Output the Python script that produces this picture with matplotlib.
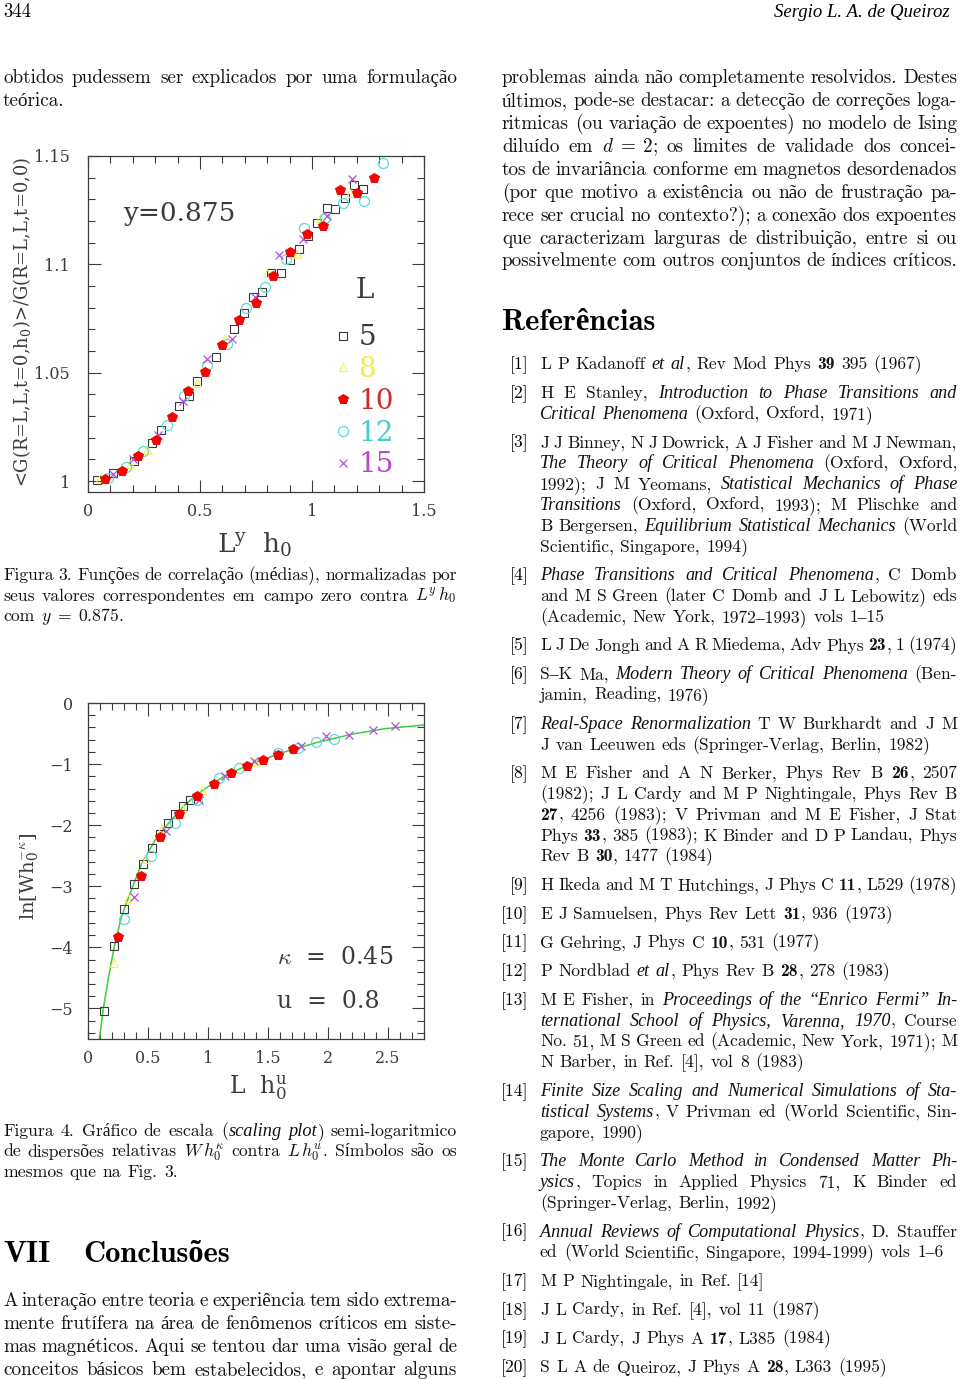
import matplotlib.pyplot as plt
from matplotlib.ticker import MultipleLocator

plt.rcParams['mathtext.fontset'] = 'cm'

W, H = 960, 1379

# ---------------- Figura 3: <G(h0)>/G(0) vs L^y h0 ----------------
f3_x5 = [0.039, 0.113, 0.205, 0.284, 0.324, 0.406, 0.451, 0.488, 0.571, 0.653, 0.696, 0.735,
         0.778, 0.817, 0.862, 0.902, 0.943, 0.984, 1.021, 1.065, 1.104, 1.147, 1.188, 1.229]
f3_y5 = [1.0005, 1.0038, 1.0095, 1.0177, 1.0234, 1.0346, 1.0392, 1.0462, 1.0574, 1.0700, 1.0774, 1.0851,
         1.0874, 1.0958, 1.0962, 1.1020, 1.1069, 1.1131, 1.1192, 1.1258, 1.1254, 1.1305, 1.1366, 1.1346]
f3_x8 = [0.054, 0.187, 0.262, 0.485, 0.612, 0.798, 0.932, 1.036, 1.170]
f3_y8 = [1.0015, 1.0077, 1.0146, 1.0454, 1.0662, 1.0962, 1.1046, 1.1215, 1.1331]
f3_x10 = [0.076, 0.150, 0.225, 0.302, 0.374, 0.448, 0.522, 0.600, 0.676, 0.750, 0.824, 0.902,
          0.976, 1.051, 1.125, 1.199, 1.277]
f3_y10 = [1.0011, 1.0049, 1.0115, 1.0189, 1.0295, 1.0415, 1.0505, 1.0628, 1.0743, 1.0823, 1.0946, 1.1057,
          1.1138, 1.1177, 1.1343, 1.1331, 1.1400]
f3_x12 = [0.091, 0.168, 0.247, 0.354, 0.430, 0.533, 0.619, 0.704, 0.790, 0.884, 0.966, 1.058,
          1.140, 1.232, 1.318]
f3_y12 = [1.0015, 1.0066, 1.0138, 1.0257, 1.0395, 1.0534, 1.0635, 1.0800, 1.0895, 1.1026, 1.1169, 1.1212,
          1.1282, 1.1292, 1.1469]
f3_x15 = [0.113, 0.202, 0.314, 0.423, 0.530, 0.641, 0.746, 0.854, 0.958, 1.068, 1.177]
f3_y15 = [1.0034, 1.0100, 1.0215, 1.0369, 1.0562, 1.0654, 1.0851, 1.1043, 1.1115, 1.1223, 1.1395]
f3_xticks = [0, 0.5, 1, 1.5]
f3_xticklabels = ['0', '0.5', '1', '1.5']
f3_yticks = [1, 1.05, 1.1, 1.15]
f3_yticklabels = ['1', '1.05', '1.1', '1.15']

# ---------------- Figura 4: ln[W h0^-k] vs L h0^u ----------------
f4_x5 = [0.130, 0.219, 0.302, 0.380, 0.457, 0.532, 0.596, 0.665, 0.723, 0.790, 0.851]
f4_y5 = [-5.04, -3.98, -3.38, -2.97, -2.63, -2.37, -2.14, -1.97, -1.81, -1.68, -1.59]
f4_x8 = [0.213, 0.330, 0.480, 0.620, 0.780, 0.950, 1.200, 1.380]
f4_y8 = [-4.25, -3.20, -2.55, -2.05, -1.72, -1.42, -1.12, -0.97]
f4_x10 = [0.249, 0.438, 0.601, 0.759, 0.906, 1.053, 1.189, 1.328, 1.458, 1.585, 1.710]
f4_y10 = [-3.83, -2.83, -2.19, -1.82, -1.53, -1.32, -1.15, -1.03, -0.94, -0.85, -0.76]
f4_x12 = [0.302, 0.527, 0.726, 0.906, 1.095, 1.261, 1.580, 1.752, 1.904, 2.051]
f4_y12 = [-3.53, -2.51, -1.97, -1.58, -1.23, -1.06, -0.82, -0.74, -0.64, -0.59]
f4_x15 = [0.380, 0.649, 0.929, 1.142, 1.383, 1.580, 1.779, 1.982, 2.176, 2.375, 2.561]
f4_y15 = [-3.17, -2.10, -1.58, -1.20, -0.95, -0.83, -0.70, -0.54, -0.52, -0.45, -0.37]
fit_x = [0.095, 0.128, 0.170, 0.220, 0.280, 0.364, 0.447, 0.558, 0.670, 0.810, 0.947, 1.140,
         1.364, 1.640, 1.920, 2.200, 2.475, 2.800]
fit_y = [-5.50, -5.00, -4.50, -3.98, -3.49, -3.05, -2.63, -2.25, -1.97, -1.66, -1.44, -1.19,
         -0.99, -0.80, -0.64, -0.51, -0.42, -0.36]
f4_xticks = [0, 0.5, 1, 1.5, 2, 2.5]
f4_xticklabels = ['0', '0.5', '1', '1.5', '2', '2.5']
f4_yticks = [0, -1, -2, -3, -4, -5]
f4_yticklabels = ['0', '\u22121', '\u22122', '\u22123', '\u22124', '\u22125']

sizes_L = ['5', '8', '10', '12', '15']

# ---------------- page text ----------------
LEFT_TOP = ["obtidos pudessem ser explicados por uma formulação", "teórica."]
CAP3 = ["Figura 3. Funções de correlação (médias), normalizadas por",
        r"seus valores correspondentes em campo zero contra $L^y\,h_0$",
        r"com $y\;=\;0.875$."]
CAP4 = ["Figura 4. Gráfico de escala (/scaling plot/) semi-logaritmico",
        r"de dispersões relativas $W\,h_0^\kappa$ contra $L\,h_0^u$. Símbolos são os",
        "mesmos que na Fig. 3."]
CONCL = ["A interação entre teoria e experiência tem sido extrema-",
         "mente frutífera na área de fenômenos críticos em siste-",
         "mas magnéticos. Aqui se tentou dar uma visão geral de",
         "conceitos básicos bem estabelecidos, e apontar alguns"]
RIGHT_TOP = ["problemas ainda não completamente resolvidos. Destes",
             "últimos, pode-se destacar: a detecção de correções loga-",
             "ritmicas (ou variação de expoentes) no modelo de Ising",
             r"diluído em $d\;=\;2$; os limites de validade dos concei-",
             "tos de invariância conforme em magnetos desordenados",
             "(por que motivo a existência ou não de frustração pa-",
             "rece ser crucial no contexto?); a conexão dos expoentes",
             "que caracterizam larguras de distribuição, entre si ou",
             "possivelmente com outros conjuntos de índices críticos."]
REFS = [
    ["L P Kadanoff /et al/, Rev Mod Phys *39* 395 (1967)"],
    ["H E Stanley, /Introduction to Phase Transitions and/",
     "/Critical Phenomena/ (Oxford, Oxford, 1971)"],
    ["J J Binney, N J Dowrick, A J Fisher and M J Newman,",
     "/The Theory of Critical Phenomena/ (Oxford, Oxford,",
     "1992); J M Yeomans, /Statistical Mechanics of Phase/",
     "/Transitions/ (Oxford, Oxford, 1993); M Plischke and",
     "B Bergersen, /Equilibrium Statistical Mechanics/ (World",
     "Scientific, Singapore, 1994)"],
    ["/Phase Transitions and Critical Phenomena/, C Domb",
     "and M S Green (later C Domb and J L Lebowitz) eds",
     "(Academic, New York, 1972–1993) vols 1–15"],
    ["L J De Jongh and A R Miedema, Adv Phys *23*, 1 (1974)"],
    ["S–K Ma, /Modern Theory of Critical Phenomena/ (Ben-",
     "jamin, Reading, 1976)"],
    ["/Real-Space Renormalization/ T W Burkhardt and J M",
     "J van Leeuwen eds (Springer-Verlag, Berlin, 1982)"],
    ["M E Fisher and A N Berker, Phys Rev B *26*, 2507",
     "(1982); J L Cardy and M P Nightingale, Phys Rev B",
     "*27*, 4256 (1983); V Privman and M E Fisher, J Stat",
     "Phys *33*, 385 (1983); K Binder and D P Landau, Phys",
     "Rev B *30*, 1477 (1984)"],
    ["H Ikeda and M T Hutchings, J Phys C *11*, L529 (1978)"],
    ["E J Samuelsen, Phys Rev Lett *31*, 936 (1973)"],
    ["G Gehring, J Phys C *10*, 531 (1977)"],
    ["P Nordblad /et al/, Phys Rev B *28*, 278 (1983)"],
    ["M E Fisher, in /Proceedings of the “Enrico Fermi” In-/",
     "/ternational School of Physics, Varenna, 1970/, Course",
     "No. 51, M S Green ed (Academic, New York, 1971); M",
     "N Barber, in Ref. [4], vol 8 (1983)"],
    ["/Finite Size Scaling and Numerical Simulations of Sta-/",
     "/tistical Systems/, V Privman ed (World Scientific, Sin-",
     "gapore, 1990)"],
    ["/The Monte Carlo Method in Condensed Matter Ph-/",
     "/ysics/, Topics in Applied Physics 71, K Binder ed",
     "(Springer-Verlag, Berlin, 1992)"],
    ["/Annual Reviews of Computational Physics/, D. Stauffer",
     "ed (World Scientific, Singapore, 1994-1999) vols 1–6"],
    ["M P Nightingale, in Ref. [14]"],
    ["J L Cardy, in Ref. [4], vol 11 (1987)"],
    ["J L Cardy, J Phys A *17*, L385 (1984)"],
    ["S L A de Queiroz, J Phys A *28*, L363 (1995)"],
]

fig = plt.figure(figsize=(9.6, 13.79), dpi=100)
renderer = fig.canvas.get_renderer()

STYLE = {
    'r': dict(family=['cmr10', 'Liberation Serif']),
    'i': dict(family=['Liberation Serif'], style='italic'),
    'b': dict(family=['cmb10', 'Liberation Serif'], weight='bold'),
}
SIZE_K = {'r': 1.0, 'i': 1.04, 'b': 1.0}


def fxy(x, y):
    return x / W, 1 - y / H


def put(x, y, s, **kw):
    return fig.text(*fxy(x, y), s, **kw)


def parse(line):
    state = 'r'
    words = []
    for w in line.split(' '):
        segs, cur = [], ''
        for ch in w:
            if ch in '/*':
                if cur:
                    segs.append((cur, state))
                cur = ''
                flag = 'i' if ch == '/' else 'b'
                state = 'r' if state == flag else flag
            else:
                cur += ch
        if cur:
            segs.append((cur, state))
        words.append(segs)
    return words


def text_line(line, x0, y, width, size, justify):
    items = []
    for segs in parse(line):
        ws = []
        for s, st in segs:
            t = put(0, y, s, fontsize=size * SIZE_K[st], ha='left', va='baseline', color='#111111',
                    **STYLE[st])
            ws.append((t, t.get_window_extent(renderer).width))
        items.append(ws)
    widths = [sum(w for _, w in ws) for ws in items]
    gap = 0.36 * size * 100 / 72
    total = sum(widths) + gap * (len(items) - 1)
    if len(items) > 1 and (justify or total > width):
        gap = (width - sum(widths)) / (len(items) - 1)
    x = x0
    for ws, wd in zip(items, widths):
        xx = x
        for t, w in ws:
            t.set_position(fxy(xx, y))
            xx += w + 0.6
        x += wd + gap


def paragraph(lines, x0, y0, width, size, pitch, last_ragged=True):
    for i, ln in enumerate(lines):
        rag = last_ragged and i == len(lines) - 1
        text_line(ln, x0, y0 + i * pitch, width, size, not rag)


BODY = 13.8
CAP = 12.7
HEAD = 22
# header
put(3, 17, '344', fontsize=13.5, ha='left', va='baseline', **STYLE['r'])
put(950, 17, 'Sergio L. A. de Queiroz', fontsize=13.5, ha='right', va='baseline', **STYLE['i'])

# left column
paragraph(LEFT_TOP, 3, 83.3, 454, BODY, 22.9)
paragraph(CAP3, 3, 580, 454, CAP, 20.5)
paragraph(CAP4, 3, 1136, 454, CAP, 20.5)
put(3, 1262, 'VII', fontsize=HEAD, ha='left', va='baseline', **STYLE['b'])
put(83, 1262, 'Conclusões', fontsize=HEAD, ha='left', va='baseline', **STYLE['b'])
paragraph(CONCL, 3, 1306, 454, BODY, 22.9, last_ragged=False)

# right column
paragraph(RIGHT_TOP, 502, 83.3, 455, BODY, 22.9, last_ragged=False)
put(502, 330, 'Referências', fontsize=HEAD, ha='left', va='baseline', **STYLE['b'])

REF_SIZE = 12.6
y = 369.3
for k, item in enumerate(REFS):
    put(528.5, y, '[%d]' % (k + 1), fontsize=REF_SIZE, ha='right', va='baseline', **STYLE['r'])
    for i, ln in enumerate(item):
        text_line(ln, 540, y, 417, REF_SIZE, i < len(item) - 1)
        if i < len(item) - 1:
            y += 20.8
    y += 28.7

# ---------------- charts ----------------
CF = 'DejaVu Serif'
INK = '#3c3c3c'
C5, C8, C10, C12, C15 = '#3a3a3a', '#f2f25a', '#ff0000', '#5fd8d8', '#b350d8'


def frame(ax, xlim, ylim, xt, xtl, yt, ytl, xminor, yminor, ypad):
    ax.set_xlim(*xlim)
    ax.set_ylim(*ylim)
    ax.set_xticks(xt, xtl, fontfamily=CF, fontsize=11.5, color=INK)
    ax.set_yticks(yt, ytl, fontfamily=CF, fontsize=11.5, color=INK)
    ax.xaxis.set_minor_locator(MultipleLocator(xminor))
    ax.yaxis.set_minor_locator(MultipleLocator(yminor))
    ax.tick_params(which='both', direction='in', top=True, right=True, color=INK, width=0.8)
    ax.tick_params(which='major', length=9)
    ax.tick_params(axis='x', which='major', pad=8)
    ax.tick_params(axis='y', which='major', pad=ypad)
    ax.tick_params(which='minor', length=5)
    for s in ax.spines.values():
        s.set_color(INK)
        s.set_linewidth(0.9)


def symbols(ax, data):
    x5, y5, x8, y8, x10, y10, x12, y12, x15, y15 = data
    h5, = ax.plot(x5, y5, ls='none', marker='s', ms=5.4, mfc='none', mec=C5, mew=0.8)
    h8, = ax.plot(x8, y8, ls='none', marker='^', ms=5.8, mfc='none', mec=C8, mew=0.8)
    h12, = ax.plot(x12, y12, ls='none', marker='o', ms=7.2, mfc='none', mec=C12, mew=0.9)
    h15, = ax.plot(x15, y15, ls='none', marker='x', ms=5.8, mec=C15, mew=0.9)
    h10, = ax.plot(x10, y10, ls='none', marker='p', ms=7.4, mfc=C10, mec='#dd0000', mew=0.6)
    return [h5, h8, h10, h12, h15]


ax1 = fig.add_axes([88 / W, 1 - 492 / H, 336 / W, 336 / H])
frame(ax1, (0, 1.5), (0.995, 1.15), f3_xticks, f3_xticklabels, f3_yticks, f3_yticklabels, 0.1, 0.01, 13)
handles = symbols(ax1, (f3_x5, f3_y5, f3_x8, f3_y8, f3_x10, f3_y10, f3_x12, f3_y12, f3_x15, f3_y15))
leg = ax1.legend(handles, sizes_L, loc='upper left', bbox_to_anchor=(0.735, 0.499),
                 frameon=False, prop={'family': CF, 'size': 20},
                 labelcolor=[C5, '#eeee44', '#cc2a2a', '#44cccc', '#bb44cc'],
                 handlelength=0.6, handletextpad=0.25, labelspacing=0.17, borderpad=0.0,
                 borderaxespad=0.0)
put(365, 290, 'L', fontsize=20, ha='center', va='center', family=CF, color=INK)
put(123, 213, 'y=0.875', fontsize=19, ha='left', va='center', family=CF, color=INK)
put(22, 322, r'<G(R=L,L,t=0,h$_{\mathregular{0}}$)>/G(R=L,L,t=0,0)', fontsize=12.9, rotation=90,
    ha='center', va='center', family=CF, color=INK, math_fontfamily='dejavuserif')
put(255, 545, r'L$^{\mathregular{y}}$  h$_{\mathregular{0}}$', fontsize=19, ha='center', va='center',
    family=CF, color=INK, math_fontfamily='dejavuserif')

ax2 = fig.add_axes([88 / W, 1 - 1039 / H, 336 / W, 336 / H])
frame(ax2, (0, 2.8), (-5.5, 0), f4_xticks, f4_xticklabels, f4_yticks, f4_yticklabels, 0.1, 0.2, 11)
ax2.plot(fit_x, fit_y, color='#3ccc3c', lw=1.1)
symbols(ax2, (f4_x5, f4_y5, f4_x8, f4_y8, f4_x10, f4_y10, f4_x12, f4_y12, f4_x15, f4_y15))
put(277, 958, r'$\kappa$  =  0.45', fontsize=17, ha='left', va='center', family=CF, color=INK,
    math_fontfamily='cm')
put(277, 1001, 'u  =  0.8', fontsize=17, ha='left', va='center', family=CF, color=INK)
put(30, 876, r'ln[Wh$_{\mathregular{0}}^{-\kappa}$]', fontsize=14, rotation=90, ha='center', va='center',
    family=CF, color=INK, math_fontfamily='cm')
put(258, 1088, r'L  h$_{\mathregular{0}}^{\mathregular{u}}$', fontsize=17, ha='center', va='center',
    family=CF, color=INK, math_fontfamily='dejavuserif')

fig.savefig('out.png', dpi=100)
